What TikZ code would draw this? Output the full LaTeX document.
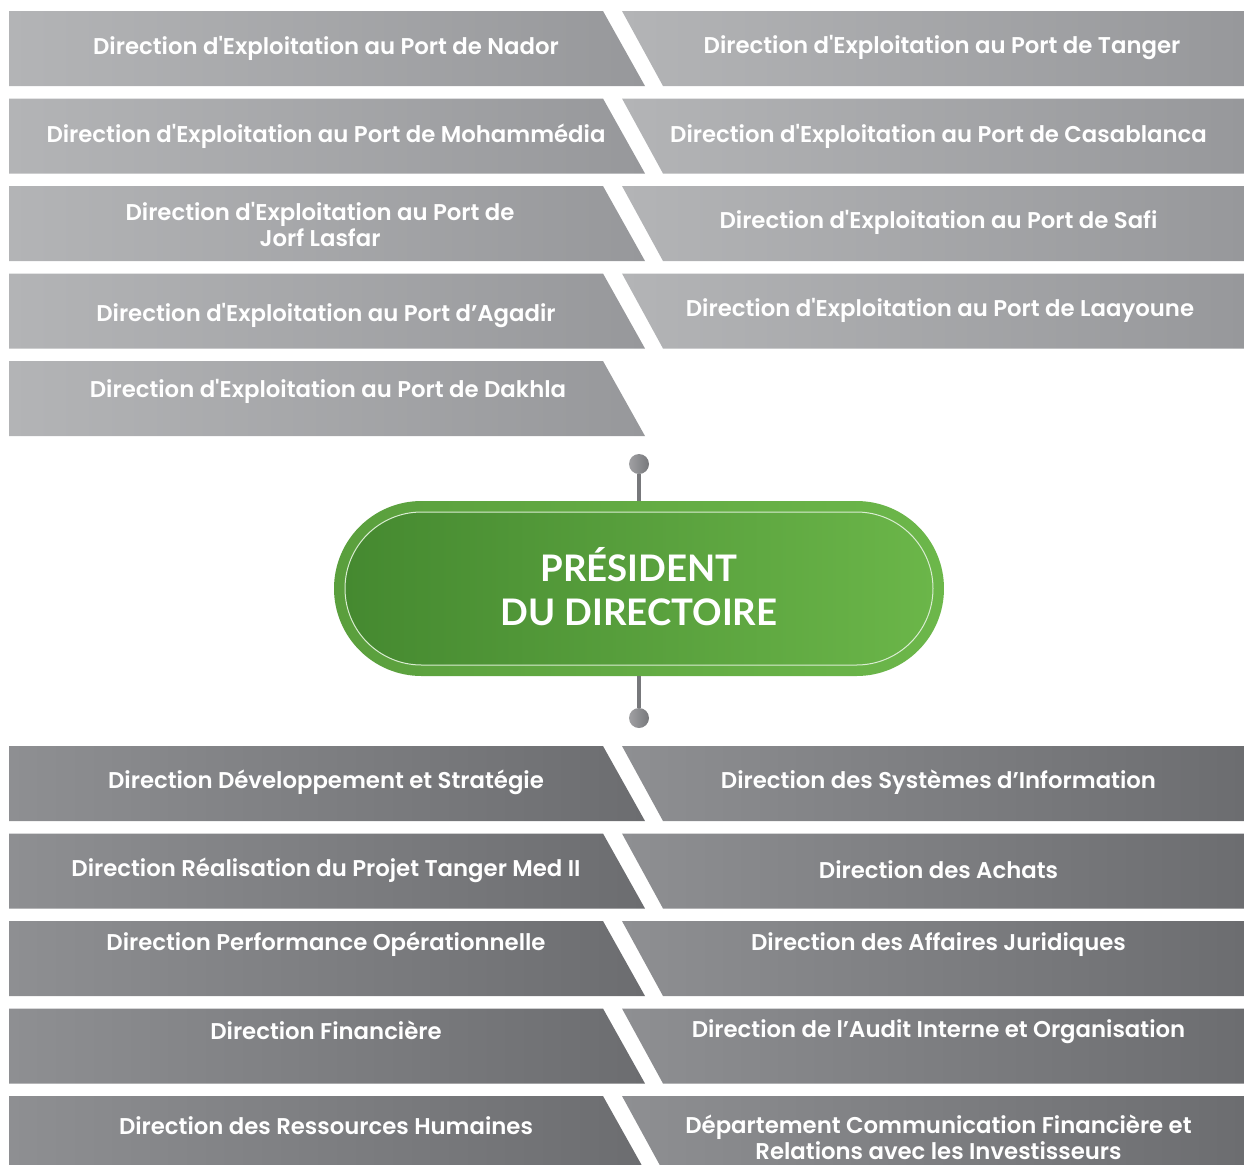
\documentclass[tikz,border=0pt]{standalone}
\usepackage{fontspec}
\setmainfont{Poppins}[Ligatures=TeXOff, BoldFont={Poppins SemiBold}]
\newfontfamily\pdgfont{Lato}
\usepackage{tikz}
\usetikzlibrary{shapes.misc}
\usetikzlibrary{positioning}
\definecolor{topL}{HTML}{B3B4B6}
\definecolor{topR}{HTML}{97989B}
\definecolor{botL}{HTML}{8E8F92}
\definecolor{botR}{HTML}{6C6D70}
\definecolor{pdgA}{HTML}{5A9F3D}
\definecolor{pdgB}{HTML}{6CB74A}
\definecolor{pdgC}{HTML}{458930}
\definecolor{pdgD}{HTML}{6BB649}
\definecolor{linkgray}{HTML}{77787B}
\tikzset{l/.style={font=\fontsize{11.4}{13}\selectfont\bfseries, text=white, align=center, inner sep=0pt}}
\tikzset{p/.style={font=\pdgfont\bfseries\fontsize{18.3}{22}\selectfont, text=white, align=center}}
\tikzset{dot/.style={circle, minimum size=10pt, inner sep=0pt, left color=linkgray!70, right color=linkgray}}
\tikzset{link/.style={draw=linkgray, line width=2pt}}
% one band on each side, #1 = top of the band
\newcommand{\lband}[3]{\path[left color=#2, right color=#3] (9,#1) -- (603,#1) -- (645,#1+75) -- (9,#1+75) -- cycle;}
\newcommand{\rband}[3]{\path[left color=#2, right color=#3] (622,#1) -- (1244,#1) -- (1244,#1+75) -- (663,#1+75) -- cycle;}

\begin{document}
\begin{tikzpicture}[x=0.5pt, y=-0.5pt]
    \useasboundingbox (0,0) rectangle (1244,1164);
    \clip (0,0) rectangle (1244,1164);
    % ports
    \lband{11}{topL}{topR} \rband{11}{topL}{topR}
    \lband{98.5}{topL}{topR} \rband{98.5}{topL}{topR}
    \lband{186}{topL}{topR} \rband{186}{topL}{topR}
    \lband{273.5}{topL}{topR} \rband{273.5}{topL}{topR}
    \lband{361}{topL}{topR}
    \node[l] (nador) at (326,48) {Direction d'Exploitation au Port de Nador};
    \node[l] (tanger) at (942,48) {Direction d'Exploitation au Port de Tanger};
    \node[l] (mohammedia) at (326,136) {Direction d'Exploitation au Port de Mohammédia};
    \node[l] (casa) at (938.5,136) {Direction d'Exploitation au Port de Casablanca};
    \node[l] (jorf) at (320,224) {Direction d'Exploitation au Port de\\Jorf Lasfar};
    \node[l] (safi) at (938.5,222) {Direction d'Exploitation au Port de Safi};
    \node[l] (agadir) at (326,316) {Direction d'Exploitation au Port d’Agadir};
    \node[l] (laayoune) at (940,310) {Direction d'Exploitation au Port de Laayoune};
    \node[l] (dakhla) at (328,391) {Direction d'Exploitation au Port de Dakhla};
    % president
    \node[rounded rectangle, minimum width=305pt, minimum height=87.5pt, inner sep=0pt,
      left color=pdgA, right color=pdgB] (pdg) at (639,588.5) {};
    \node[rounded rectangle, minimum width=294pt, minimum height=76.5pt, inner sep=0pt,
      left color=pdgC, right color=pdgD, draw=white!75!pdgB, line width=0.5pt] (pdgin) at (639,588.5) {};
    \node[p] (pdgtxt) at (639,587) {PRÉSIDENT\\DU DIRECTOIRE};
    \node[dot] (up) at (639,464) {};
    \node[dot] (down) at (639,718) {};
    \draw[link] (up) -- (pdg);
    \draw[link] (pdg) -- (down);
    % directions
    \lband{746}{botL}{botR} \rband{746}{botL}{botR}
    \lband{833.5}{botL}{botR} \rband{833.5}{botL}{botR}
    \lband{921}{botL}{botR} \rband{921}{botL}{botR}
    \lband{1008.5}{botL}{botR} \rband{1008.5}{botL}{botR}
    \lband{1096}{botL}{botR} \rband{1096}{botL}{botR}
    \node[l] (strat) at (326,782) {Direction Développement et Stratégie};
    \node[l] (si) at (938.5,782) {Direction des Systèmes d’Information};
    \node[l] (tmed) at (326,870) {Direction Réalisation du Projet Tanger Med II};
    \node[l] (achats) at (938.5,869.5) {Direction des Achats};
    \node[l] (perf) at (326,944) {Direction Performance Opérationnelle};
    \node[l] (jur) at (938.5,944.5) {Direction des Affaires Juridiques};
    \node[l] (fin) at (326,1030.5) {Direction Financière};
    \node[l] (audit) at (938.5,1031.5) {Direction de l’Audit Interne et Organisation};
    \node[l] (rh) at (326,1126) {Direction des Ressources Humaines};
    \node[l] (comfi) at (938.5,1137) {Département Communication Financière et\\Relations avec les Investisseurs};
  \end{tikzpicture}
\end{document}
